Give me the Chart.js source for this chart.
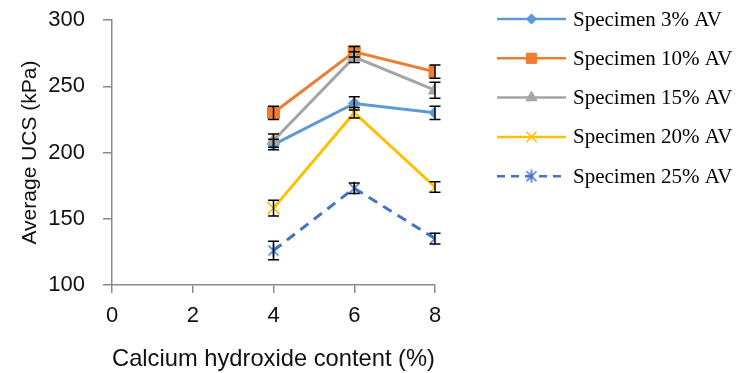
<!DOCTYPE html>
<html>
<head>
<meta charset="utf-8">
<script src="https://cdn.jsdelivr.net/npm/chart.js@4"></script>
<style>
  html, body { margin: 0; padding: 0; background: #fff; }
</style>
</head>
<body>
<canvas id="ucsChart" width="739" height="373"></canvas>
<script>
// Calcium hydroxide content (%) on x, average UCS (kPa) on y
const contents = [4, 6, 8];
const seriesNames = ['Specimen 3% AV', 'Specimen 10% AV', 'Specimen 15% AV', 'Specimen 20% AV', 'Specimen 25% AV'];

const ucs3 = [206, 237, 230];
const ucs10 = [230, 276, 261];
const ucs15 = [209, 272, 247];
const ucs20 = [158, 230, 174];
const ucs25 = [126, 173, 135];

// +/- error for each point
const err3 = [4, 5, 5];
const err10 = [5, 4, 5];
const err15 = [5, 4, 6];
const err20 = [6, 4, 4];
const err25 = [7, 4, 4];

const xTicks = [0, 2, 4, 6, 8];
const yTicks = [100, 150, 200, 250, 300];

const AXIS_GREY = '#898989';

// six-armed asterisk marker for the 25% series
function asteriskMarker(color) {
  const c = document.createElement('canvas');
  c.width = 14; c.height = 14;
  const g = c.getContext('2d');
  g.strokeStyle = color;
  g.lineWidth = 1.6;
  g.beginPath();
  g.moveTo(2, 2); g.lineTo(12, 12);
  g.moveTo(12, 2); g.lineTo(2, 12);
  g.moveTo(7, 0.5); g.lineTo(7, 13.5);
  g.stroke();
  return c;
}

function points(vals) {
  return contents.map((x, i) => ({ x: x, y: vals[i] }));
}

const styles = [
  { color: '#5B9BD5', marker: 'rectRot', radius: 6, dash: [] },
  { color: '#ED7D31', marker: 'rect', radius: 8.5, dash: [] },
  { color: '#A5A5A5', marker: 'triangle', radius: 7.5, dash: [] },
  { color: '#FFC000', marker: 'crossRot', radius: 8.5, dash: [] },
  { color: '#4472C4', marker: asteriskMarker('#4472C4'), radius: 7, dash: [10, 7] }
];

const values = [ucs3, ucs10, ucs15, ucs20, ucs25];
const errors = [err3, err10, err15, err20, err25];

const datasets = values.map((vals, i) => {
  const s = styles[i];
  return {
    label: seriesNames[i],
    data: points(vals),
    errors: errors[i],
    borderColor: s.color,
    backgroundColor: s.color,
    borderWidth: 3,
    borderDash: s.dash,
    pointStyle: s.marker,
    pointRadius: s.radius,
    pointBorderWidth: (s.marker === 'crossRot') ? 1.6 : 1,
    pointBackgroundColor: s.color,
    pointBorderColor: s.color,
    tension: 0,
    order: values.length - i
  };
});

// black error bars with caps
const errorBars = {
  id: 'errorBars',
  afterDatasetsDraw(chart) {
    const { ctx, scales: { x, y } } = chart;
    ctx.save();
    ctx.strokeStyle = '#000';
    ctx.lineWidth = 1.5;
    chart.data.datasets.forEach(ds => {
      ds.data.forEach((pt, j) => {
        const e = ds.errors[j];
        const px = x.getPixelForValue(pt.x);
        const top = y.getPixelForValue(pt.y + e);
        const bot = y.getPixelForValue(pt.y - e);
        ctx.beginPath();
        ctx.moveTo(px, top); ctx.lineTo(px, bot);
        ctx.moveTo(px - 5.5, top); ctx.lineTo(px + 5.5, top);
        ctx.moveTo(px - 5.5, bot); ctx.lineTo(px + 5.5, bot);
        ctx.stroke();
      });
    });
    ctx.restore();
  }
};

// legend on the right: line sample with marker, serif label
const sideLegend = {
  id: 'sideLegend',
  afterDraw(chart) {
    const ctx = chart.ctx;
    const x0 = 497, x1 = 566, tx = 573, y0 = 19, step = 39.3;
    chart.data.datasets.forEach((ds, i) => {
      const cy = y0 + i * step;
      ctx.save();
      ctx.strokeStyle = ds.borderColor;
      ctx.lineWidth = 2.5;
      ctx.setLineDash(i === 4 ? [8, 6] : []);
      ctx.beginPath();
      ctx.moveTo(x0, cy); ctx.lineTo(x1, cy);
      ctx.stroke();
      ctx.setLineDash([]);
      ctx.fillStyle = ds.pointBackgroundColor;
      ctx.strokeStyle = ds.pointBorderColor;
      ctx.lineWidth = ds.pointBorderWidth;
      Chart.helpers.drawPoint(ctx, {
        pointStyle: ds.pointStyle,
        radius: ds.pointRadius * 0.85,
        borderWidth: ds.pointBorderWidth,
        rotation: 0
      }, (x0 + x1) / 2, cy);
      ctx.fillStyle = '#000';
      ctx.font = '21px "Liberation Serif", "Times New Roman", serif';
      ctx.textBaseline = 'middle';
      ctx.fillText(ds.label, tx, cy + 1);
      ctx.restore();
    });
  }
};

new Chart(document.getElementById('ucsChart'), {
  type: 'line',
  data: { datasets: datasets },
  plugins: [errorBars, sideLegend],
  options: {
    responsive: false,
    animation: false,
    layout: { padding: { left: 0, top: 20, right: 304, bottom: 0 } },
    plugins: {
      legend: { display: false },
      tooltip: { enabled: false }
    },
    scales: {
      x: {
        type: 'linear',
        min: 0,
        max: 8,
        afterBuildTicks: scale => { scale.ticks = xTicks.map(v => ({ value: v })); },
        afterFit: scale => {
          scale.height = 88;
          scale.paddingLeft = 0;
          scale.paddingRight = 0;
        },
        grid: { display: true, drawOnChartArea: false, drawTicks: true, tickLength: 8, color: AXIS_GREY, lineWidth: 1.5 },
        border: { display: true, color: AXIS_GREY, width: 1.5 },
        ticks: { color: '#111', padding: 10, font: { family: '"Liberation Sans", Arial, sans-serif', size: 22 } },
        title: {
          display: true,
          text: 'Calcium hydroxide content (%)',
          color: '#111',
          padding: { top: 0, bottom: -1 },
          font: { family: '"Liberation Sans", Arial, sans-serif', size: 24 }
        }
      },
      y: {
        type: 'linear',
        min: 100,
        max: 300,
        afterBuildTicks: scale => { scale.ticks = yTicks.map(v => ({ value: v })); },
        afterFit: scale => {
          scale.width = 112;
          scale.paddingTop = 0;
          scale.paddingBottom = 0;
        },
        grid: { display: true, drawOnChartArea: false, drawTicks: true, tickLength: 9, color: AXIS_GREY, lineWidth: 1.5 },
        border: { display: true, color: AXIS_GREY, width: 1.5 },
        ticks: { color: '#111', padding: 18, font: { family: '"Liberation Sans", Arial, sans-serif', size: 22 } },
        title: {
          display: true,
          text: 'Average UCS (kPa)',
          color: '#111',
          padding: { top: 18, bottom: 0 },
          font: { family: '"Liberation Sans", Arial, sans-serif', size: 21 }
        }
      }
    }
  }
});
</script>
</body>
</html>
